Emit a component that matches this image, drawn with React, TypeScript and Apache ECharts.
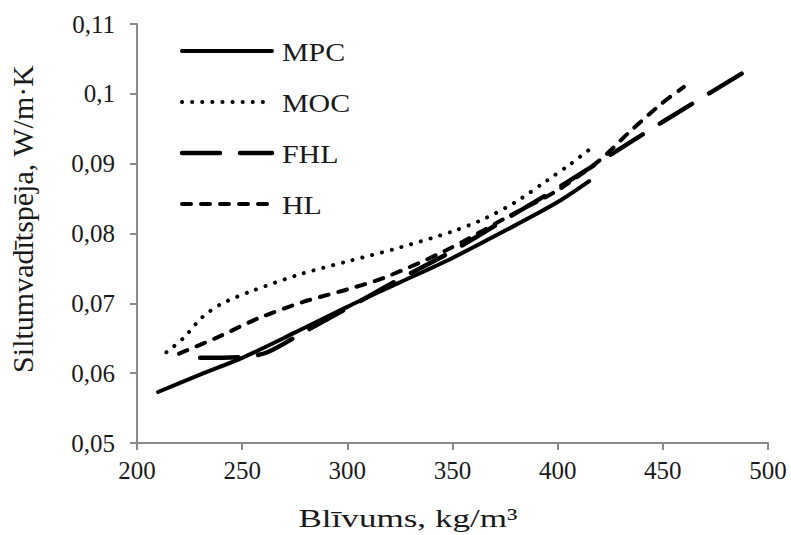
import React, { useEffect, useRef } from "react";
import * as echarts from "echarts";

const seriesNames = ["MPC", "MOC", "FHL", "HL"];

const mpcX = [210, 230, 250, 275, 300, 325, 350, 380, 400, 415];
const mpcY = [0.0573, 0.0598, 0.0622, 0.0658, 0.0695, 0.073, 0.0765, 0.0812, 0.0845, 0.0875];

const mocX = [214, 222, 231, 240, 254, 278, 300, 325, 350, 365, 380, 395, 405, 415];
const mocY = [0.063, 0.065, 0.068, 0.0699, 0.0717, 0.0742, 0.076, 0.078, 0.0803, 0.0821, 0.0845, 0.0876, 0.0897, 0.092];

const fhlX = [230, 250, 262, 280, 300, 325, 350, 375, 400, 420, 450, 488];
const fhlY = [0.0622, 0.0623, 0.063, 0.066, 0.0693, 0.0735, 0.0775, 0.082, 0.0865, 0.0903, 0.096, 0.103];

const hlX = [220, 238, 258, 279, 300, 317, 347, 377, 400, 420, 434, 449, 460];
const hlY = [0.0628, 0.0651, 0.0679, 0.0702, 0.072, 0.0736, 0.0776, 0.0825, 0.0862, 0.0905, 0.0945, 0.0985, 0.101];

const xTitle = "Blīvums, kg/m³";
const yTitle = "Siltumvadītspēja, W/m·K";

const FONT = '"Liberation Serif", "Times New Roman", serif';
const TXT = "#1a1a1a";
const AX = "#8a8a8a";

const styles: Record<string, { width: number; dash: number[] | null }> = {
  MPC: { width: 4, dash: null },
  MOC: { width: 4, dash: [0.1, 10] },
  FHL: { width: 4.5, dash: [38, 20] },
  HL: { width: 4, dash: [9, 10] },
};

const pairs = (xs: number[], ys: number[]) => xs.map((x, i) => [x, ys[i]]);

export default function App() {
  const ref = useRef<HTMLDivElement>(null);
  useEffect(() => {
    if (!ref.current) return;
    const chart = echarts.init(ref.current, undefined, { renderer: "svg" });
    const lineBase = { type: "line", showSymbol: false, symbol: "none", smooth: 0.3, silent: true };
    const legendTop = 51;
    const legendStep = 51;
    const legendGraphics: any[] = [];
    seriesNames.forEach((n, i) => {
      const y = legendTop + i * legendStep;
      const s = styles[n];
      legendGraphics.push({
        type: "line",
        shape: { x1: 182, y1: y, x2: 272, y2: y },
        style: {
          stroke: "#000",
          lineWidth: s.width,
          lineDash: s.dash || undefined,
          lineCap: "round",
        },
      });
      legendGraphics.push({
        type: "text",
        x: 282,
        y: y + 1,
        scaleX: 1.15,
        style: {
          text: n,
          fontFamily: FONT,
          fontSize: 26,
          fill: TXT,
          align: "left",
          verticalAlign: "middle",
        },
      });
    });
    const mk = (name: string, xs: number[], ys: number[], z: number) => ({
      ...lineBase,
      name,
      data: pairs(xs, ys),
      lineStyle: {
        color: "#000",
        width: styles[name].width,
        type: styles[name].dash || "solid",
        cap: "round",
      },
      itemStyle: { color: "#000" },
      z,
    });
    chart.setOption({
      animation: false,
      backgroundColor: "#ffffff",
      grid: { left: 137, right: 23, top: 24, bottom: 92, containLabel: false },
      xAxis: {
        type: "value",
        min: 200,
        max: 500,
        interval: 50,
        splitLine: { show: false },
        axisLine: { lineStyle: { color: AX, width: 2 } },
        axisTick: { show: true, length: 7, lineStyle: { color: AX, width: 2 } },
        axisLabel: { fontFamily: FONT, fontSize: 25, color: TXT, margin: 15 },
      },
      yAxis: {
        type: "value",
        min: 0.05,
        max: 0.11,
        interval: 0.01,
        splitLine: { show: false },
        axisLine: { show: true, lineStyle: { color: AX, width: 2 } },
        axisTick: { show: true, length: 7, lineStyle: { color: AX, width: 2 } },
        axisLabel: {
          fontFamily: FONT,
          fontSize: 25,
          color: TXT,
          margin: 22,
          formatter: (v: number) => String(Math.round(v * 100) / 100).replace(".", ","),
        },
      },
      graphic: [
        {
          type: "text",
          x: 22,
          y: 219,
          rotation: Math.PI / 2,
          style: {
            text: yTitle,
            fontFamily: FONT,
            fontSize: 30,
            fill: TXT,
            align: "center",
            verticalAlign: "middle",
          },
        },
        {
          type: "text",
          x: 408,
          y: 518,
          scaleX: 1.35,
          style: {
            text: xTitle,
            fontFamily: FONT,
            fontSize: 26,
            fill: TXT,
            align: "center",
            verticalAlign: "middle",
          },
        },
        ...legendGraphics,
      ],
      series: [
        mk("MPC", mpcX, mpcY, 4),
        mk("MOC", mocX, mocY, 3),
        mk("FHL", fhlX, fhlY, 2),
        mk("HL", hlX, hlY, 1),
      ],
    });
    return () => chart.dispose();
  }, []);
  return (
    <div
      ref={ref}
      style={{ position: "fixed", left: 0, top: 0, width: 791, height: 535, background: "#fff" }}
    />
  );
}
